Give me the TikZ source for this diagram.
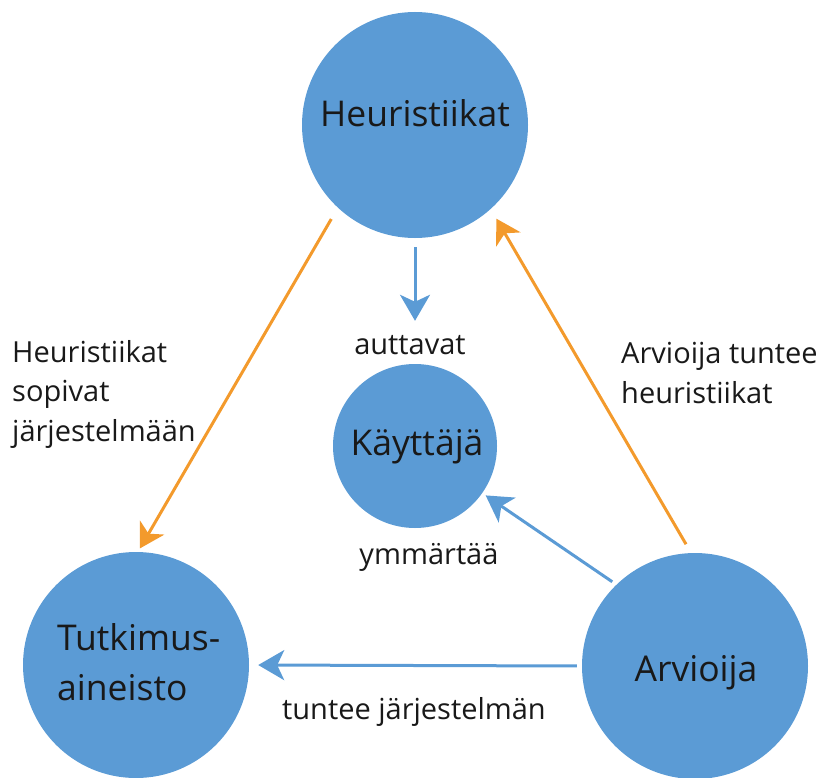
\documentclass[tikz,border=0pt]{standalone}
\usepackage{fontspec}
\setmainfont{Open Sans}
\usetikzlibrary{arrows.meta}
\definecolor{circblue}{HTML}{5B9BD5}
\definecolor{arrorange}{HTML}{F39A2C}
\begin{document}
\begin{tikzpicture}[x=1pt,y=-1pt,
  bubble/.style={circle,fill=circblue,inner sep=0pt,minimum size=#1},
  bigtext/.style={font=\fontsize{35.5}{50}\selectfont,text=black!90,inner sep=0pt},
  labeltext/.style={font=\fontsize{29}{39.5}\selectfont,text=black!90,inner sep=0pt},
  bluearrow/.style={draw=circblue,line width=3pt,-{Stealth[length=26pt,width=30pt,inset=7pt]}},
  orangearrow/.style={draw=arrorange,line width=3pt,-{Stealth[length=24pt,width=28pt,inset=7pt]}}]
\useasboundingbox (0,0) rectangle (824,778);

% circles
\node[bubble=226pt] (heur) at (415,125) {};
\node[bubble=164pt] (kayt) at (415,446) {};
\node[bubble=226pt] (tutk) at (136,665) {};
\node[bubble=226pt] (arv) at (695,666) {};

% circle texts
\node[bigtext] (heurtxt) at (415,113) {Heuristiikat};
\node[bigtext] (kayttxt) at (417,447) {Käyttäjä};
\node[bigtext,align=left,anchor=west] (tutktxt) at (57,662) {Tutkimus-\\aineisto};
\node[bigtext] (arvtxt) at (696,673) {Arvioija};

% connectors
\draw[bluearrow,shorten <=9pt,shorten >=43pt] (heur.south) -- (kayt.north);
\draw[bluearrow,shorten <=5pt,shorten >=4pt] (arv.134.7) -- (kayt.-35.5);
\draw[bluearrow,shorten <=5pt,shorten >=9pt] (arv.180) -- (tutk.0);
\draw[orangearrow,shorten <=13pt,shorten >=4pt] (heur.227.6) -- (tutk.89);
\draw[orangearrow,shorten <=10pt,shorten >=11pt] (arv.92.8) -- (heur.-48);

% connector labels
\node[labeltext] (lauttavat) at (410,345) {auttavat};
\node[labeltext] (lymmartaa) at (429,557) {ymmärtää};
\node[labeltext] (ltuntee) at (414,712) {tuntee järjestelmän};
\node[labeltext,align=left,anchor=west] (lsopivat) at (12,394) {Heuristiikat\\sopivat\\järjestelmään};
\node[labeltext,align=left,anchor=west] (lheur) at (621,373) {Arvioija tuntee\\heuristiikat};
\end{tikzpicture}
\end{document}
